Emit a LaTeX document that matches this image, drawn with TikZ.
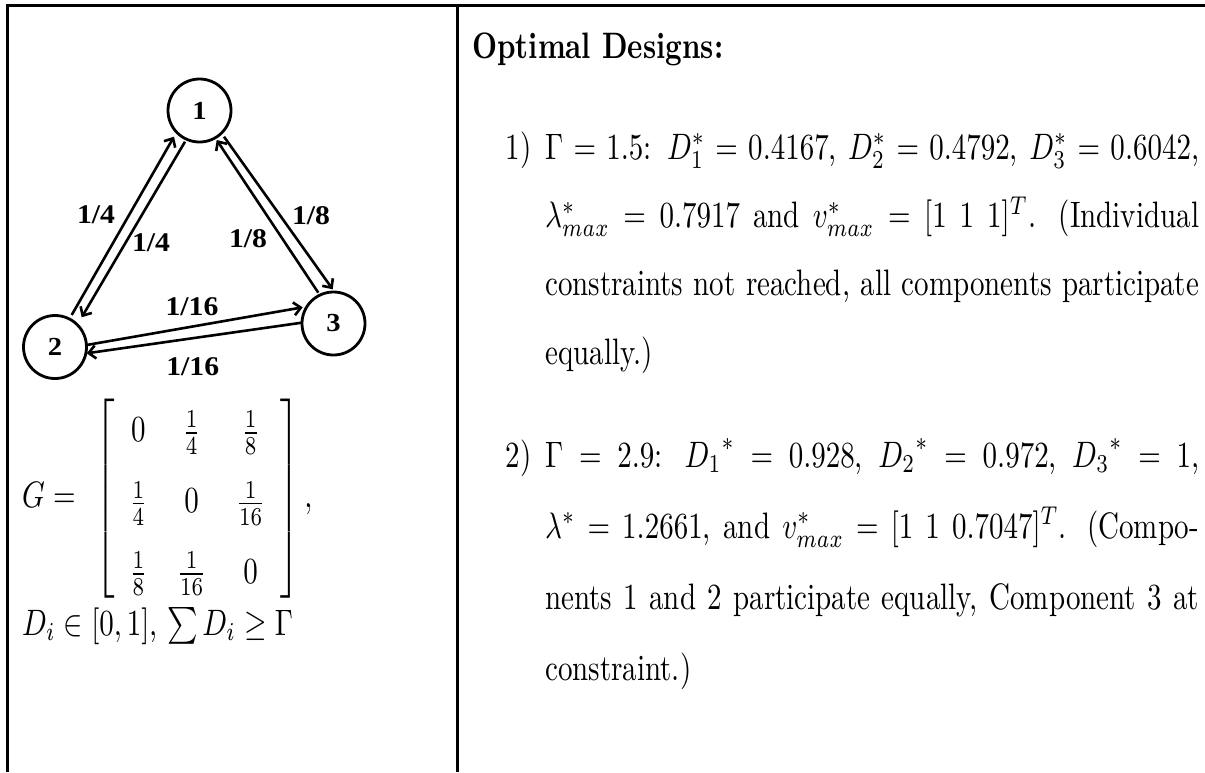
\documentclass[tikz,border=0pt]{standalone}
\usepackage{amsmath,amssymb}
\usepackage{fontspec}
\newfontfamily\graphfont{Liberation Serif}[BoldFont={Liberation Serif Bold}]
\usetikzlibrary{arrows.meta,calc}
\newcommand{\sx}[1]{\scalebox{2.9}[3.68]{#1}}
\newcommand{\gl}[1]{\scalebox{1.1}[1]{\graphfont\bfseries\fontsize{27pt}{30pt}\selectfont #1}}
\newcommand{\gn}[1]{\scalebox{1.1}[1]{\graphfont\bfseries\fontsize{26pt}{30pt}\selectfont #1}}
\tikzset{
  rule/.style={line width=3pt, line join=miter},
  gnode/.style={circle, draw, line width=2.8pt, minimum size=63pt, inner sep=0pt},
  arr/.style={line width=2.6pt, -{Straight Barb[length=7pt,width=13pt]}},
  lbl/.style={inner sep=0pt},
  txt/.style={inner sep=0pt, anchor=base west}
}
\begin{document}
\begin{tikzpicture}[x=1pt,y=-1pt]
\useasboundingbox (0,0) rectangle (1205,772);
% table rules
\coordinate (tl) at (7.5,5.5);
\coordinate (tr) at (1205,5.5);
\coordinate (bl) at (7.5,772);
\coordinate (dt) at (457.3,5.5);
\coordinate (db) at (457.3,772);
\draw[rule] (bl) -- (tl) -- (tr);
\draw[line width=2.7pt] (dt) -- (db);
% graph
\node[gnode] (n1) at (199.5,110.5) {\gn{1}};
\node[gnode] (n2) at (55,347) {\gn{2}};
\node[gnode] (n3) at (333.5,323.5) {\gn{3}};
\draw[arr] ($(n2)+(16.7,-32)$) -- ($(n1)+(-25.5,26.2)$);
\draw[arr] ($(n1)+(-14.5,31.2)$) -- ($(n2)+(26.7,-29.7)$);
\draw[arr] ($(n1)+(24.5,26.2)$) -- ($(n3)+(-0.8,-34.2)$);
\draw[arr] ($(n3)+(-15.2,-30.8)$) -- ($(n1)+(17.2,29.5)$);
\draw[arr] ($(n2)+(31.7,-2)$) -- ($(n3)+(-30.8,-16.2)$);
\draw[arr] ($(n3)+(-31.8,-0.8)$) -- ($(n2)+(31.7,6.3)$);
\node[lbl] (l21) at (96,215) {\gl{1/4}};
\node[lbl] (l12) at (151,243) {\gl{1/4}};
\node[lbl] (l13) at (311,216) {\gl{1/8}};
\node[lbl] (l31) at (248,239) {\gl{1/8}};
\node[lbl] (l23) at (192,306.5) {\gl{1/16}};
\node[lbl] (l32) at (192.7,366.5) {\gl{1/16}};
% matrix and constraint
\node[inner sep=0pt, anchor=west] (G) at (22,498.5) {\sx{\renewcommand{\arraystretch}{1.6}$G=\hspace{4pt}\left[\begin{array}{ccc}0&\frac14&\frac18\\ \frac14&0&\frac1{16}\\ \frac18&\frac1{16}&0\end{array}\right],$}};
\node[txt] (D) at (22,635) {\sx{$D_i\in[0,1]$, $\sum D_i\geq\Gamma$}};
% right column
\node[txt] (title) at (472,58) {\sx{\textbf{Optimal Designs:}}};
\node[txt] (it1) at (545,159) {\sx{\parbox[t]{225.5pt}{\setlength{\baselineskip}{18.6pt}\noindent\llap{1)\hspace{4.8pt}}$\Gamma=1.5$: $D_1^*=0.4167$, $D_2^*=0.4792$, $D_3^*=0.6042$,\linebreak $\lambda^*_{max}=0.7917$ and $v^*_{max}=[1\ 1\ 1]^T$. (Individual\linebreak constraints not reached, all components participate\linebreak equally.)}}};
\node[txt] (it2) at (545,467) {\sx{\parbox[t]{225.5pt}{\setlength{\baselineskip}{19.3pt}\noindent\llap{2)\hspace{4.8pt}}$\Gamma=2.9$: ${D_1}^*=0.928$, ${D_2}^*=0.972$, ${D_3}^*=1$,\linebreak $\lambda^*=1.2661$, and $v^*_{max}=[1\ 1\ 0.7047]^T$. (Compo-\linebreak nents 1 and 2 participate equally, Component 3 at\linebreak constraint.)}}};
\end{tikzpicture}
\end{document}
